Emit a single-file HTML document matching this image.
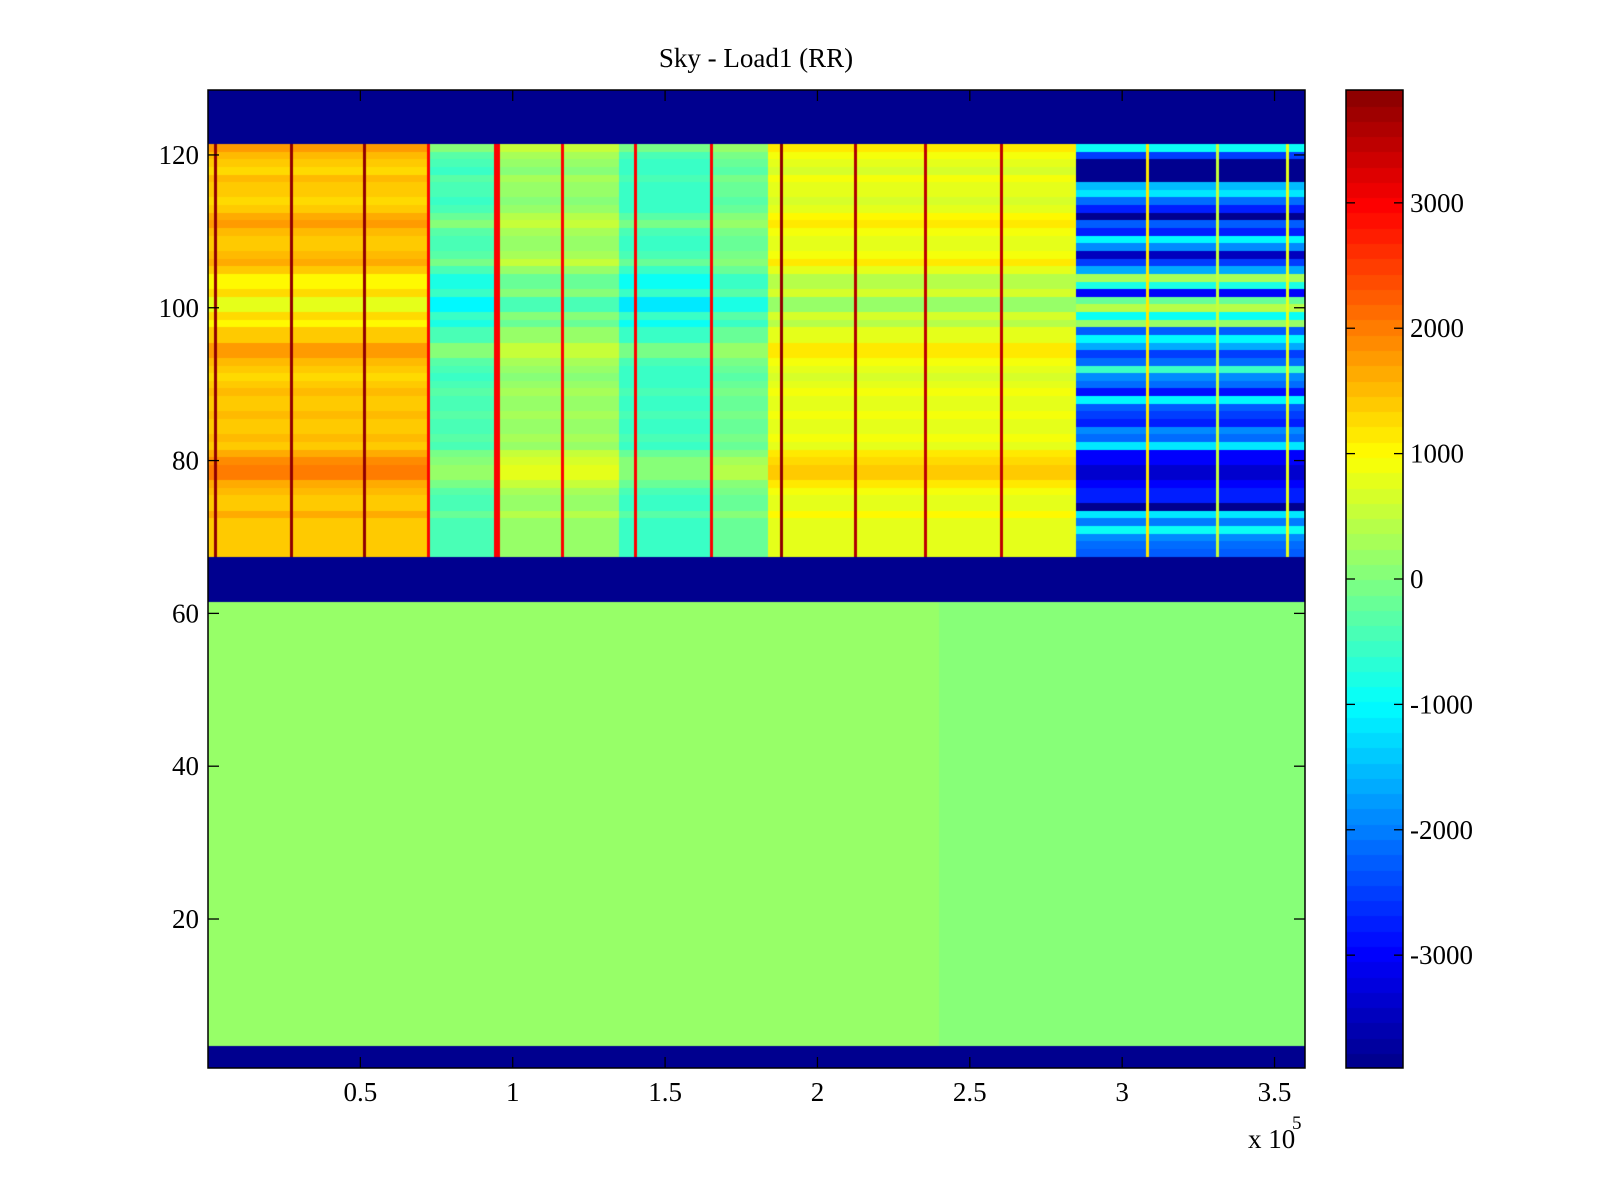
<!DOCTYPE html>
<html><head><meta charset="utf-8"><style>
body{margin:0;background:#fff;width:1600px;height:1200px;overflow:hidden;position:relative;font-family:"Liberation Serif",serif}
canvas{position:absolute}
svg{position:absolute;left:0;top:0}
</style></head><body>
<canvas id="hm" width="1097" height="978" style="left:208px;top:90px"></canvas>
<canvas id="cb" width="57" height="978" style="left:1346px;top:90px"></canvas>
<svg id="ax" width="1600" height="1200"></svg>
<script>
// ---- data ----
const cMin = -3900, cMax = 3900;
const xMax = 3.6; // x10^5
const nCols = 360;
const bandTopRows = [68, 121];
const bandLowRows = [4, 61];
const segEdges = [0, 0.73, 0.95, 1.35, 1.65, 1.84, 2.85, 3.6];
const segValues = [1400, -400, 200, -500, -200, 800, null];
// row modifiers for rows 121 down to 68
const rowMod = [400,100,0,-100,100,0,0,-100,0,200,400,100,0,0,100,300,0,-400,-400,-100,-600,-600,-100,-400,0,0,400,400,100,0,-100,0,100,0,0,100,0,0,100,0,300,500,600,600,300,100,0,0,200,0,0,0,0,0];
// blue segment rows 121 down to 68
const blueRows = [-900,-2500,-3800,-3800,-3800,-1500,-1100,-2100,-2700,-3800,-2300,-2700,-1000,-1900,-3500,-2500,-1700,300,-800,-3000,-200,400,-900,200,-2300,-1000,-1700,-2500,-2100,-500,-1900,-2100,-2900,-1000,-2300,-2500,-2700,-1900,-2100,-1100,-3000,-3000,-3300,-3400,-3000,-2700,-2700,-3900,-1200,-2000,-900,-1900,-2100,-2300];
const lowEdges = [0, 1.2, 2.4, 3.6];
const lowValues = [200, 150, 100];
const spikeX = [0.027,0.272,0.513,0.728,0.95,1.164,1.403,1.654,1.889,2.124,2.356,2.607,3.087,3.315,3.544];
const spikeV = [3800,3800,3800,3000,3000,3000,3000,3000,3800,3600,3500,3500,1200,600,800];
const xTicks = [0.5,1,1.5,2,2.5,3,3.5];
const xTickLabels = ["0.5","1","1.5","2","2.5","3","3.5"];
const yTicks = [20,40,60,80,100,120];
const cTicks = [-3000,-2000,-1000,0,1000,2000,3000];

// ---- scales ----
const PL=208, PT=90, PW=1097, PH=978;
const yMin=0.5, yMax=128.5;
const sx = v => PL + v / xMax * PW;
const sy = r => PT + (yMax - r) / (yMax - yMin) * PH;
const sc = v => PT + (cMax - v) / (cMax - cMin) * PH;
function jet(v){
  let i = Math.floor((v - cMin) / (cMax - cMin) * 64);
  i = Math.max(0, Math.min(63, i));
  const t = (i + 1) / 65;
  const c = a => Math.round(255 * Math.max(0, Math.min(1, 1.5 - Math.abs(4 * t - a))));
  return `rgb(${c(3)},${c(2)},${c(1)})`;
}
function segVal(x, edges, vals){
  for (let i = 0; i < vals.length; i++) if (x >= edges[i] && x < edges[i+1]) return i;
  return vals.length - 1;
}
function cellValue(row, x){
  if (row >= bandLowRows[0] && row <= bandLowRows[1]) return lowValues[segVal(x, lowEdges, lowValues)];
  if (row >= bandTopRows[0] && row <= bandTopRows[1]) {
    const k = bandTopRows[1] - row;
    const s = segVal(x, segEdges, segValues);
    let v = segValues[s] === null ? blueRows[k] : segValues[s] + rowMod[k];
    for (let j = 0; j < spikeX.length; j++) if (Math.abs(x - spikeX[j]) < 0.006) v = segValues[s] === null ? spikeV[j] : Math.max(v, spikeV[j]);
    return v;
  }
  return cMin;
}
// ---- heatmap ----
const ctx = document.getElementById('hm').getContext('2d');
for (let r = 1; r <= 128; r++) {
  const y0 = sy(r + 0.5) - PT, y1 = sy(r - 0.5) - PT;
  for (let c = 0; c < nCols; c++) {
    const xa = c * xMax / nCols, xb = (c + 1) * xMax / nCols;
    ctx.fillStyle = jet(cellValue(r, (xa + xb) / 2));
    const x0 = sx(xa) - PL, x1 = sx(xb) - PL;
    ctx.fillRect(Math.floor(x0), Math.floor(y0), Math.ceil(x1) - Math.floor(x0), Math.ceil(y1) - Math.floor(y0));
  }
}
// ---- colorbar ----
const cctx = document.getElementById('cb').getContext('2d');
for (let i = 0; i < 64; i++) {
  const v0 = cMin + i * (cMax - cMin) / 64, v1 = cMin + (i + 1) * (cMax - cMin) / 64;
  cctx.fillStyle = jet((v0 + v1) / 2);
  cctx.fillRect(0, Math.floor(sc(v1) - PT), 57, Math.ceil(sc(v0) - sc(v1)) + 1);
}
// ---- axes ----
const svg = document.getElementById('ax');
const NS = 'http://www.w3.org/2000/svg';
function mk(tag, attrs, name){
  const e = document.createElementNS(NS, tag);
  for (const k in attrs) e.setAttribute(k, attrs[k]);
  
  
  svg.appendChild(e); return e;
}
function txt(x, y, s, anchor, size, name){
  const t = mk('text', {x:x, y:y, 'text-anchor':anchor, 'font-family':'Liberation Serif, serif', 'font-size':size, fill:'#000'}, name);
  t.textContent = s; return t;
}
xTicks.forEach((v, i) => {
  const x = sx(v);
  mk('line', {x1:x, x2:x, y1:PT+PH, y2:PT+PH-11, stroke:'#000', 'stroke-width':1.3}, 'x-tick');
  mk('line', {x1:x, x2:x, y1:PT, y2:PT+11, stroke:'#000', 'stroke-width':1.3}, 'x-tick-top');
  txt(x, 1101, xTickLabels[i], 'middle', 27, 'x-tick-label');
});
yTicks.forEach(v => {
  const y = sy(v);
  mk('line', {x1:PL, x2:PL+11, y1:y, y2:y, stroke:'#000', 'stroke-width':1.3}, 'y-tick');
  mk('line', {x1:PL+PW, x2:PL+PW-11, y1:y, y2:y, stroke:'#000', 'stroke-width':1.3}, 'y-tick-right');
  txt(199, y + 9, String(v), 'end', 27, 'y-tick-label');
});
mk('rect', {x:PL, y:PT, width:PW, height:PH, fill:'none', stroke:'#000', 'stroke-width':1.5}, 'plot-frame');
cTicks.forEach(v => {
  const y = sc(v);
  mk('line', {x1:1346, x2:1355, y1:y, y2:y, stroke:'#000', 'stroke-width':1.3}, 'colorbar-tick');
  mk('line', {x1:1403, x2:1394, y1:y, y2:y, stroke:'#000', 'stroke-width':1.3}, 'colorbar-tick-right');
  txt(1410, y + 9, String(v), 'start', 27, 'colorbar-tick-label');
});
mk('rect', {x:1346, y:PT, width:57, height:PH, fill:'none', stroke:'#000', 'stroke-width':1.5}, 'colorbar-frame');
txt(756, 67, 'Sky - Load1 (RR)', 'middle', 27, 'chart-title');
txt(1248, 1148, 'x 10', 'start', 27, 'x-exponent-label');
txt(1292, 1129, '5', 'start', 19, 'x-exponent-power');
</script>
</body></html>
